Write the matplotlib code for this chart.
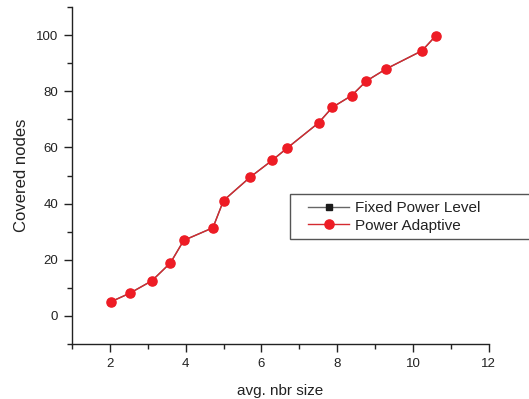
import matplotlib
matplotlib.use('Agg')
import matplotlib.pyplot as plt
from matplotlib.patches import Rectangle
from matplotlib.ticker import MultipleLocator

# avg. neighbour size vs covered nodes
nbrSize = [2.04, 2.53, 3.11, 3.60, 3.95, 4.72, 5.00, 5.70, 6.29, 6.68,
           7.51, 7.87, 8.38, 8.77, 9.29, 10.24, 10.60]
fixedPower = [5.1, 8.1, 12.5, 18.9, 26.9, 31.4, 41.1, 49.4, 55.5, 59.8,
              68.8, 74.3, 78.5, 83.7, 88.0, 94.5, 99.8]
powerAdaptive = [5.1, 8.1, 12.5, 18.9, 26.9, 31.4, 41.1, 49.4, 55.5, 59.8,
                 68.8, 74.3, 78.5, 83.7, 88.0, 94.5, 99.8]

plt.rcParams['font.family'] = ['Liberation Sans', 'DejaVu Sans']

W, H = 529, 399
fig = plt.figure(figsize=(W / 100, H / 100), dpi=100)
ax = fig.add_axes([0.136, 0.138, 0.788, 0.844])

ax.plot(nbrSize, fixedPower, color='#666666', lw=1.0, marker='s', ms=5.0,
        mfc='#1a1a1a', mec='#1a1a1a', label='Fixed Power Level')
ax.plot(nbrSize, powerAdaptive, color='#d42a30', lw=1.0, marker='o', ms=6.6,
        mfc='#ee1c25', mec='#ee1c25', label='Power Adaptive')

ax.set_xlim(1, 12)
ax.set_ylim(-10, 110)
ax.xaxis.set_minor_locator(MultipleLocator(1))
ax.yaxis.set_minor_locator(MultipleLocator(10))
ax.set_xticks([2, 4, 6, 8, 10, 12])
ax.set_yticks([0, 20, 40, 60, 80, 100])

for side in ['top', 'right']:
    ax.spines[side].set_visible(False)
for side in ['left', 'bottom']:
    ax.spines[side].set_linewidth(1.0)
    ax.spines[side].set_color('#222222')

ax.tick_params(which='major', direction='out', length=6, width=1.0,
               labelsize=9.5, colors='#222222', pad=4)
ax.tick_params(which='minor', direction='out', length=3.5, width=1.0,
               colors='#222222')

ax.set_xlabel('avg. nbr size', fontsize=11, color='#222222', labelpad=10)
ax.set_ylabel('Covered nodes', fontsize=12, color='#222222', labelpad=5)

# legend frame runs off the right edge, as in the original figure
ax.add_patch(Rectangle((290 / W, 1 - 239 / H), 250 / W, 45 / H,
                       transform=fig.transFigure, fill=True, fc='white',
                       ec='#555555', lw=1.0, zorder=4, clip_on=False))
leg = ax.legend(loc='upper left', bbox_to_anchor=(308 / W, 1 - 201 / H),
                bbox_transform=fig.transFigure, fontsize=11, frameon=False,
                borderpad=0, handlelength=2.7, handletextpad=0.35,
                labelspacing=0.25, borderaxespad=0)
leg.set_zorder(5)
for t in leg.get_texts():
    t.set_color('#222222')

plt.savefig('out.png', dpi=100)
